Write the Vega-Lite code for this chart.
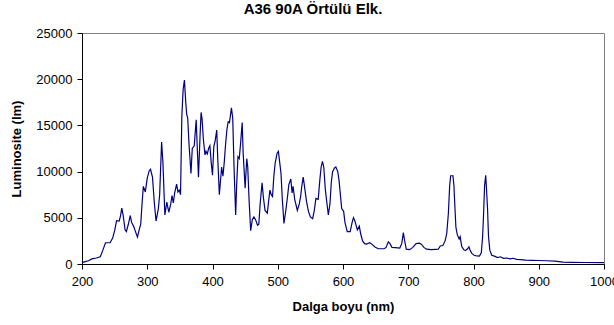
{
  "$schema": "https://vega.github.io/schema/vega-lite/v6.json",
  "width": 522,
  "height": 231,
  "autosize": {"type": "none"},
  "padding": {"left": 82, "top": 33, "right": 10, "bottom": 61},
  "background": "white",
  "title": {
    "text": "A36 90A Örtülü Elk.",
    "font": "Liberation Sans",
    "fontSize": 15,
    "fontWeight": "bold",
    "color": "black",
    "anchor": "middle",
    "dx": -30,
    "offset": 10
  },
  "config": {
    "view": {"stroke": "#808080", "strokeWidth": 1},
    "font": "Liberation Sans",
    "axis": {
      "grid": false,
      "domainColor": "black",
      "tickColor": "black",
      "tickSize": 5,
      "labelColor": "black",
      "labelFont": "Liberation Sans",
      "labelFontSize": 13,
      "titleFont": "Liberation Sans",
      "titleFontSize": 13,
      "titleFontWeight": "bold",
      "titleColor": "black"
    }
  },
  "data": {
    "values": [
      {"w": 200, "L": 150}, {"w": 205, "L": 250}, {"w": 210, "L": 350}, {"w": 215, "L": 550},
      {"w": 222, "L": 650}, {"w": 228, "L": 780}, {"w": 232, "L": 1500}, {"w": 236, "L": 2300},
      {"w": 243, "L": 2300}, {"w": 247, "L": 2800}, {"w": 250, "L": 3600}, {"w": 253, "L": 4700},
      {"w": 257, "L": 4650}, {"w": 259, "L": 5200}, {"w": 261, "L": 6050}, {"w": 263, "L": 5300},
      {"w": 266, "L": 3700}, {"w": 268, "L": 3500}, {"w": 271, "L": 4300}, {"w": 274, "L": 5250},
      {"w": 276, "L": 4500}, {"w": 279, "L": 4100}, {"w": 282, "L": 3500}, {"w": 285, "L": 2900},
      {"w": 288, "L": 3800}, {"w": 290, "L": 4300}, {"w": 292, "L": 6500}, {"w": 294, "L": 8400},
      {"w": 297, "L": 7800}, {"w": 300, "L": 9300}, {"w": 303, "L": 10100}, {"w": 305, "L": 10250},
      {"w": 308, "L": 9400}, {"w": 311, "L": 6500}, {"w": 313.5, "L": 4650}, {"w": 317, "L": 6000},
      {"w": 319, "L": 7500}, {"w": 322, "L": 13200}, {"w": 324, "L": 11000}, {"w": 327, "L": 5300},
      {"w": 330, "L": 6700}, {"w": 333, "L": 5600}, {"w": 336, "L": 6500}, {"w": 338, "L": 7400},
      {"w": 340, "L": 6600}, {"w": 342, "L": 7700}, {"w": 345, "L": 8650}, {"w": 347, "L": 7800},
      {"w": 349, "L": 8000}, {"w": 351, "L": 7500}, {"w": 353, "L": 16000}, {"w": 355, "L": 18900},
      {"w": 357, "L": 19900}, {"w": 359, "L": 17500}, {"w": 360.5, "L": 16200}, {"w": 362, "L": 15800},
      {"w": 364, "L": 13000}, {"w": 367, "L": 9800}, {"w": 369, "L": 12500}, {"w": 372, "L": 12800},
      {"w": 375, "L": 15600}, {"w": 377, "L": 12000}, {"w": 378.5, "L": 9400}, {"w": 381, "L": 14000},
      {"w": 382.5, "L": 16400}, {"w": 384, "L": 15700}, {"w": 386, "L": 13500}, {"w": 388.5, "L": 11800},
      {"w": 390, "L": 12200}, {"w": 392, "L": 11900}, {"w": 394, "L": 12500}, {"w": 396, "L": 12800},
      {"w": 398, "L": 11000}, {"w": 400, "L": 9600}, {"w": 402, "L": 12700}, {"w": 404, "L": 13300},
      {"w": 406.5, "L": 14500}, {"w": 408, "L": 11500}, {"w": 410.5, "L": 7500}, {"w": 412, "L": 8800},
      {"w": 414, "L": 10500}, {"w": 416, "L": 9500}, {"w": 418, "L": 11000}, {"w": 420, "L": 12900},
      {"w": 422, "L": 14500}, {"w": 424, "L": 15400}, {"w": 426, "L": 15300}, {"w": 429, "L": 16900},
      {"w": 431, "L": 15800}, {"w": 433, "L": 10500}, {"w": 435.5, "L": 5300}, {"w": 437, "L": 8500},
      {"w": 439, "L": 11600}, {"w": 441, "L": 11400}, {"w": 443, "L": 13000}, {"w": 445.5, "L": 15300},
      {"w": 447, "L": 12000}, {"w": 450, "L": 8200}, {"w": 452.5, "L": 11400}, {"w": 454, "L": 10500},
      {"w": 456, "L": 7000}, {"w": 458.5, "L": 3600}, {"w": 461, "L": 4800}, {"w": 463.5, "L": 5100},
      {"w": 466, "L": 4800}, {"w": 469, "L": 4200}, {"w": 471, "L": 4300}, {"w": 473, "L": 6500},
      {"w": 476, "L": 8800}, {"w": 478, "L": 7200}, {"w": 480.5, "L": 5800}, {"w": 484, "L": 5500},
      {"w": 486, "L": 6800}, {"w": 488, "L": 8000}, {"w": 490, "L": 7500}, {"w": 492, "L": 7300},
      {"w": 494, "L": 9500}, {"w": 496, "L": 10900}, {"w": 499, "L": 12000}, {"w": 501, "L": 12200},
      {"w": 503, "L": 11000}, {"w": 505, "L": 9800}, {"w": 507, "L": 7000}, {"w": 509.5, "L": 4400},
      {"w": 512, "L": 5600}, {"w": 515, "L": 7300}, {"w": 517, "L": 8600}, {"w": 520, "L": 9200},
      {"w": 522, "L": 7700}, {"w": 523.5, "L": 8400}, {"w": 526, "L": 7000}, {"w": 530, "L": 5800},
      {"w": 533, "L": 6500}, {"w": 535, "L": 7300}, {"w": 537, "L": 8500}, {"w": 539, "L": 9400},
      {"w": 541, "L": 8400}, {"w": 544, "L": 6800}, {"w": 547, "L": 5700}, {"w": 550, "L": 5100},
      {"w": 553.5, "L": 4900}, {"w": 556, "L": 5800}, {"w": 558.5, "L": 7100}, {"w": 562, "L": 7000},
      {"w": 564.5, "L": 9100}, {"w": 566.5, "L": 10500}, {"w": 568.5, "L": 11100}, {"w": 570.5, "L": 10500},
      {"w": 573, "L": 8000}, {"w": 577.5, "L": 5300}, {"w": 580, "L": 6500}, {"w": 582, "L": 8800},
      {"w": 584, "L": 10000}, {"w": 587, "L": 10400}, {"w": 589, "L": 10500}, {"w": 592, "L": 10000},
      {"w": 594, "L": 9000}, {"w": 596, "L": 7500}, {"w": 598, "L": 6000}, {"w": 601, "L": 5700},
      {"w": 603, "L": 4500}, {"w": 606.5, "L": 3500}, {"w": 611, "L": 3500}, {"w": 614, "L": 4500},
      {"w": 616, "L": 5000}, {"w": 618, "L": 4700}, {"w": 620, "L": 4200}, {"w": 622, "L": 3700},
      {"w": 625, "L": 4100}, {"w": 627, "L": 3300}, {"w": 630, "L": 2500}, {"w": 633, "L": 2200},
      {"w": 636, "L": 2150}, {"w": 641, "L": 2300}, {"w": 645, "L": 2100}, {"w": 649, "L": 1850},
      {"w": 654, "L": 1650}, {"w": 658, "L": 1650}, {"w": 663, "L": 1650}, {"w": 666, "L": 1800},
      {"w": 669.5, "L": 2400}, {"w": 672, "L": 2200}, {"w": 675, "L": 1800}, {"w": 680, "L": 1780},
      {"w": 687, "L": 1730}, {"w": 690, "L": 2200}, {"w": 692.5, "L": 3400}, {"w": 694.5, "L": 2500},
      {"w": 697, "L": 1600}, {"w": 702, "L": 1550}, {"w": 707, "L": 1800}, {"w": 712, "L": 2200},
      {"w": 717, "L": 2250}, {"w": 720, "L": 2150}, {"w": 724, "L": 1800}, {"w": 728, "L": 1600},
      {"w": 735, "L": 1550}, {"w": 742, "L": 1580}, {"w": 746, "L": 1600}, {"w": 749, "L": 1950},
      {"w": 753, "L": 2000}, {"w": 756.5, "L": 2500}, {"w": 759, "L": 3300}, {"w": 761.5, "L": 5500},
      {"w": 763.5, "L": 8500}, {"w": 765, "L": 9550}, {"w": 768.5, "L": 9550}, {"w": 770, "L": 8500},
      {"w": 771.5, "L": 6200}, {"w": 773, "L": 4000}, {"w": 775, "L": 3200}, {"w": 778, "L": 2700},
      {"w": 779.5, "L": 2950}, {"w": 782, "L": 1900}, {"w": 785, "L": 1550}, {"w": 787.5, "L": 1450},
      {"w": 791, "L": 1650}, {"w": 793, "L": 1850}, {"w": 795, "L": 1450}, {"w": 797.5, "L": 1150},
      {"w": 801, "L": 950}, {"w": 805, "L": 870}, {"w": 809, "L": 850}, {"w": 812, "L": 1200},
      {"w": 814, "L": 3000}, {"w": 815.5, "L": 5500}, {"w": 817, "L": 8500}, {"w": 818.7, "L": 9600},
      {"w": 820, "L": 8000}, {"w": 821.5, "L": 6000}, {"w": 823, "L": 3000}, {"w": 825, "L": 1500},
      {"w": 828, "L": 950}, {"w": 832, "L": 850}, {"w": 837, "L": 700}, {"w": 841, "L": 780},
      {"w": 846, "L": 620}, {"w": 851, "L": 650}, {"w": 856, "L": 560}, {"w": 861, "L": 620},
      {"w": 866, "L": 500}, {"w": 872, "L": 480}, {"w": 880, "L": 430}, {"w": 890, "L": 400},
      {"w": 900, "L": 380}, {"w": 912, "L": 350}, {"w": 925, "L": 320}, {"w": 937, "L": 200},
      {"w": 950, "L": 180}, {"w": 970, "L": 160}, {"w": 1000, "L": 150}
    ]
  },
  "mark": {"type": "line", "color": "#000080", "strokeWidth": 1.2, "interpolate": "linear"},
  "encoding": {
    "x": {
      "field": "w",
      "type": "quantitative",
      "scale": {"domain": [200, 1000], "nice": false, "zero": false},
      "axis": {"values": [200, 300, 400, 500, 600, 700, 800, 900, 1000], "title": "Dalga boyu (nm)", "labelPadding": 6, "titlePadding": 12, "format": "d", "labelFlush": false}
    },
    "y": {
      "field": "L",
      "type": "quantitative",
      "scale": {"domain": [0, 25000], "nice": false},
      "axis": {"values": [0, 5000, 10000, 15000, 20000, 25000], "title": "Luminosite (lm)", "labelPadding": 5, "titlePadding": 12, "format": "d"}
    }
  }
}
